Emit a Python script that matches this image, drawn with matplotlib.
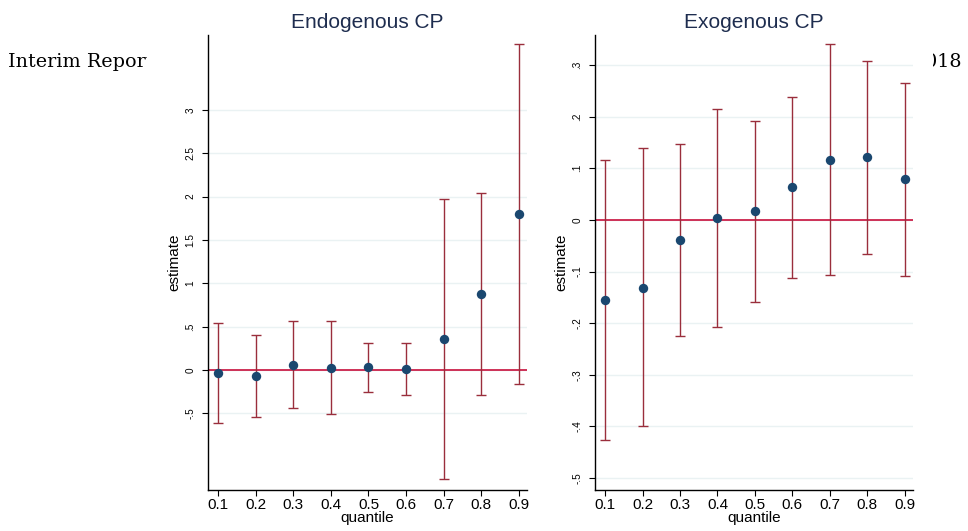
import matplotlib
matplotlib.use("Agg")
import matplotlib.pyplot as plt
from matplotlib.patches import Rectangle

quantiles = [0.1, 0.2, 0.3, 0.4, 0.5, 0.6, 0.7, 0.8, 0.9]

endo_est = [-0.035, -0.07, 0.058, 0.023, 0.035, 0.012, 0.36, 0.877, 1.80]
endo_lo = [-0.61, -0.54, -0.44, -0.51, -0.25, -0.29, -1.26, -0.29, -0.16]
endo_hi = [0.54, 0.40, 0.565, 0.565, 0.31, 0.31, 1.97, 2.04, 3.76]
endo_yticks = [-0.5, 0, 0.5, 1, 1.5, 2, 2.5, 3]
endo_ylabels = ["-.5", "0", ".5", "1", "1.5", "2", "2.5", "3"]

exo_est = [-0.155, -0.131, -0.039, 0.004, 0.017, 0.064, 0.116, 0.122, 0.079]
exo_lo = [-0.426, -0.40, -0.224, -0.207, -0.159, -0.112, -0.106, -0.066, -0.108]
exo_hi = [0.116, 0.139, 0.147, 0.215, 0.191, 0.238, 0.34, 0.308, 0.265]
exo_yticks = [-0.5, -0.4, -0.3, -0.2, -0.1, 0, 0.1, 0.2, 0.3]
exo_ylabels = ["-.5", "-.4", "-.3", "-.2", "-.1", "0", ".1", ".2", ".3"]

xlabels = ["0.1", "0.2", "0.3", "0.4", "0.5", "0.6", "0.7", "0.8", "0.9"]

W, H = 968, 531
fig = plt.figure(figsize=(W / 100, H / 100), dpi=100)
fig.patch.set_facecolor("white")

# page header behind the chart images
fig.text(8 / W, 1 - 62 / H, "Interim Report", family="DejaVu Serif",
         fontsize=13.8, va="center", ha="left", zorder=0)
fig.text(962 / W, 1 - 62 / H, "2018", family="DejaVu Serif",
         fontsize=13.8, va="center", ha="right", zorder=0)
fig.add_artist(Rectangle((147 / W, 0), (933 - 147) / W, 1, transform=fig.transFigure,
                         facecolor="white", edgecolor="none", zorder=1))

NAVY = "#1a476f"
CRAN = "#9a2e3c"
ZERO = "#c8103c"
GRID = "#eaf2f3"
TITLE = "#1e2d4f"


def panel(rect, est, lo, hi, yticks, ylabels, ylim, title):
    ax = fig.add_axes(rect, zorder=2)
    ax.set_facecolor("white")
    for y in yticks:
        ax.axhline(y, color=GRID, lw=1.0, zorder=0)
    ax.axhline(0, color=ZERO, lw=1.2, zorder=1)
    yerr = [[e - l for e, l in zip(est, lo)], [h - e for e, h in zip(est, hi)]]
    ax.errorbar(quantiles, est, yerr=yerr, fmt="none", ecolor=CRAN,
                elinewidth=1.0, capsize=3.5, capthick=1.0, zorder=2)
    ax.scatter(quantiles, est, s=46, color=NAVY, zorder=3, linewidths=0)
    ax.set_xlim(0.073, 0.922)
    ax.set_ylim(*ylim)
    ax.set_xticks(quantiles)
    ax.set_xticklabels(xlabels, fontsize=11, family="Liberation Sans")
    ax.set_yticks(yticks)
    ax.set_yticklabels(ylabels, fontsize=7.2, family="Liberation Sans",
                       rotation=90, va="center")
    ax.tick_params(axis="both", direction="out", length=4, width=0.8,
                   color="black", pad=2)
    ax.tick_params(axis="y", pad=5)
    ax.spines["top"].set_visible(False)
    ax.spines["right"].set_visible(False)
    ax.spines["left"].set_linewidth(1.0)
    ax.spines["bottom"].set_linewidth(1.0)
    ax.set_xlabel("quantile", fontsize=11, family="Liberation Sans", labelpad=-1)
    ax.set_ylabel("estimate", fontsize=11, family="Liberation Sans", labelpad=3)
    ax.set_title(title, fontsize=15, family="Liberation Sans", color=TITLE, pad=5)
    return ax


panel([208 / W, 1 - 490 / H, (527 - 208) / W, (490 - 35) / H],
      endo_est, endo_lo, endo_hi, endo_yticks, endo_ylabels, (-1.385, 3.865),
      "Endogenous CP")
panel([595 / W, 1 - 490 / H, (913 - 595) / W, (490 - 35) / H],
      exo_est, exo_lo, exo_hi, exo_yticks, exo_ylabels, (-0.523, 0.358),
      "Exogenous CP")

fig.savefig("out.png", dpi=100, facecolor="white")
